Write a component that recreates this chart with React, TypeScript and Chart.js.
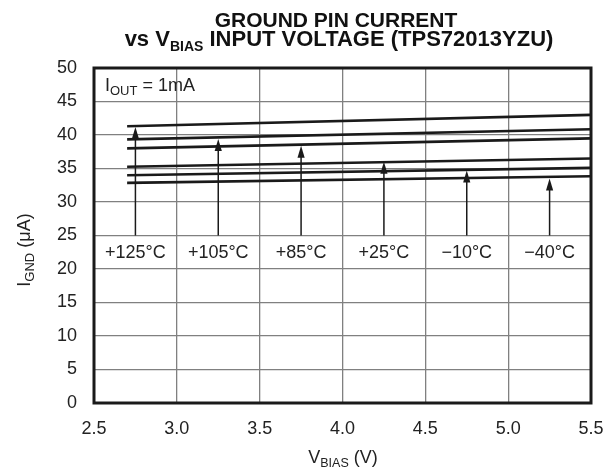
import React, { useEffect, useRef } from "react";
import { Chart, registerables } from "chart.js";

Chart.register(...registerables);

// ---- data ----
const VBIAS = [2.7, 5.5];
const I_125C = [41.3, 43.0];
const I_105C = [39.35, 40.85];
const I_85C = [38.0, 39.5];
const I_25C = [35.25, 36.5];
const I_M10C = [34.0, 35.1];
const I_M40C = [32.85, 33.85];

const TEMP_LABELS = ["+125°C", "+105°C", "+85°C", "+25°C", "\u221210°C", "\u221240°C"];
const ARROW_X = [2.75, 3.25, 3.75, 4.25, 4.75, 5.25];
const ARROW_TIP = [41.2, 39.4, 38.4, 36.0, 34.7, 33.5];
const ARROW_BASE = 25;
const LABEL_Y = 22.5;

const X_MIN = 2.5, X_MAX = 5.5, X_STEP = 0.5;
const Y_MIN = 0, Y_MAX = 50, Y_STEP = 5;

const FONT = "'Liberation Sans', Arial, Helvetica, sans-serif";

type Part = { text: string; size: number; bold?: boolean; dy?: number };

function drawParts(ctx: CanvasRenderingContext2D, parts: Part[], x: number, y: number, align: "left" | "center") {
  let total = 0;
  const widths = parts.map((p) => {
    ctx.font = `${p.bold ? "bold " : ""}${p.size}px ${FONT}`;
    const w = ctx.measureText(p.text).width;
    total += w;
    return w;
  });
  let cx = align === "center" ? x - total / 2 : x;
  ctx.textAlign = "left";
  ctx.textBaseline = "alphabetic";
  parts.forEach((p, i) => {
    ctx.font = `${p.bold ? "bold " : ""}${p.size}px ${FONT}`;
    ctx.fillText(p.text, cx, y + (p.dy || 0));
    cx += widths[i];
  });
}

const decor = {
  id: "decor",
  afterDatasetsDraw(chart: any) {
    const ctx: CanvasRenderingContext2D = chart.ctx;
    const xs = chart.scales.x;
    const ys = chart.scales.y;
    ctx.save();
    ARROW_X.forEach((xv, i) => {
      const px = xs.getPixelForValue(xv);
      const pb = ys.getPixelForValue(ARROW_BASE);
      const pt = ys.getPixelForValue(ARROW_TIP[i]);
      ctx.fillStyle = "#1a1a1a";
      ctx.strokeStyle = "#1a1a1a";
      ctx.lineWidth = 1.5;
      ctx.beginPath();
      ctx.moveTo(px, pb);
      ctx.lineTo(px, pt + 8);
      ctx.stroke();
      ctx.beginPath();
      ctx.moveTo(px, pt);
      ctx.lineTo(px - 3.6, pt + 12);
      ctx.lineTo(px + 3.6, pt + 12);
      ctx.closePath();
      ctx.fill();
      ctx.fillStyle = "#222";
      ctx.font = `18px ${FONT}`;
      ctx.textAlign = "center";
      ctx.textBaseline = "middle";
      ctx.fillText(TEMP_LABELS[i], px, ys.getPixelForValue(LABEL_Y) + 1);
    });
    ctx.restore();
  },
  afterDraw(chart: any) {
    const ctx: CanvasRenderingContext2D = chart.ctx;
    const a = chart.chartArea;
    const ys = chart.scales.y;
    ctx.save();
    ctx.strokeStyle = "#1a1a1a";
    ctx.lineWidth = 3;
    ctx.strokeRect(a.left, a.top, a.right - a.left, a.bottom - a.top);
    ctx.fillStyle = "#111";
    drawParts(ctx, [{ text: "GROUND PIN CURRENT", size: 21, bold: true }], 336, 27, "center");
    drawParts(
      ctx,
      [
        { text: "vs V", size: 22, bold: true },
        { text: "BIAS", size: 14, bold: true, dy: 5 },
        { text: " INPUT VOLTAGE (TPS72013YZU)", size: 22, bold: true },
      ],
      339,
      46,
      "center"
    );
    ctx.fillStyle = "#222";
    drawParts(
      ctx,
      [
        { text: "I", size: 18 },
        { text: "OUT", size: 13, dy: 4 },
        { text: " = 1mA", size: 18 },
      ],
      a.left + 11,
      ys.getPixelForValue(Y_MAX) + 23,
      "left"
    );
    drawParts(
      ctx,
      [
        { text: "V", size: 18 },
        { text: "BIAS", size: 12.5, dy: 4 },
        { text: " (V)", size: 18 },
      ],
      343,
      463,
      "center"
    );
    ctx.translate(30, 250);
    ctx.rotate(-Math.PI / 2);
    drawParts(
      ctx,
      [
        { text: "I", size: 18 },
        { text: "GND", size: 13, dy: 4 },
        { text: " (\u03bcA)", size: 18 },
      ],
      0,
      0,
      "center"
    );
    ctx.restore();
  },
};

export default function App() {
  const ref = useRef<HTMLCanvasElement>(null);
  useEffect(() => {
    if (!ref.current) return;
    const mk = (d: number[]) => VBIAS.map((x, i) => ({ x, y: d[i] }));
    const series = [I_125C, I_105C, I_85C, I_25C, I_M10C, I_M40C];
    const chart = new Chart(ref.current, {
      type: "line",
      data: {
        datasets: series.map((s, i) => ({
          label: TEMP_LABELS[i],
          data: mk(s),
          borderColor: "#1a1a1a",
          borderWidth: 2.6,
          pointRadius: 0,
          fill: false,
          tension: 0,
        })),
      },
      options: {
        animation: false,
        responsive: false,
        devicePixelRatio: 1,
        layout: { padding: { top: 68, right: 22, left: 0, bottom: 0 } },
        plugins: { legend: { display: false }, title: { display: false }, tooltip: { enabled: false } },
        scales: {
          x: {
            type: "linear",
            min: X_MIN,
            max: X_MAX,
            ticks: {
              stepSize: X_STEP,
              callback: (v: any) => Number(v).toFixed(1),
              font: { size: 18, family: FONT },
              color: "#222",
              padding: 15,
              maxRotation: 0,
            },
            grid: { color: "#808080", lineWidth: 1.3, drawTicks: false },
            border: { display: false },
            afterFit: (s: any) => {
              s.height = 69;
              s.paddingLeft = 0;
              s.paddingRight = 0;
            },
          },
          y: {
            min: Y_MIN,
            max: Y_MAX,
            ticks: {
              stepSize: Y_STEP,
              font: { size: 18, family: FONT },
              color: "#222",
              padding: 17,
            },
            grid: { color: "#808080", lineWidth: 1.3, drawTicks: false },
            border: { display: false },
            afterFit: (s: any) => {
              s.width = 94;
            },
          },
        },
      },
      plugins: [decor],
    });
    return () => chart.destroy();
  }, []);
  return (
    <div style={{ position: "absolute", left: 0, top: 0, width: 613, height: 472, background: "#fff" }}>
      <canvas ref={ref} width={613} height={472} style={{ display: "block", width: 613, height: 472 }} />
    </div>
  );
}
